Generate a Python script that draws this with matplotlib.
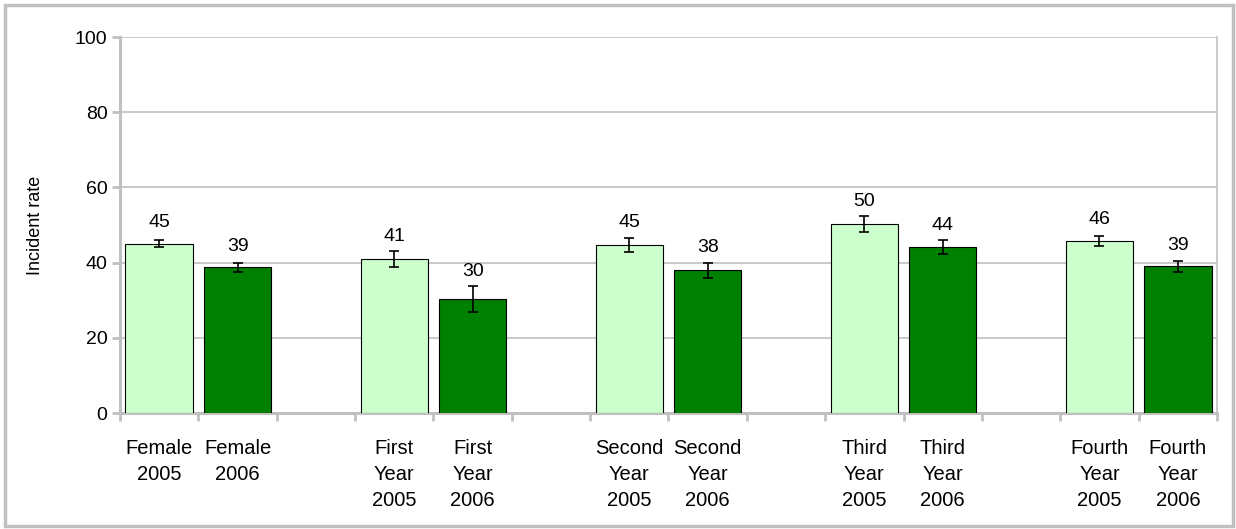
import matplotlib
matplotlib.use("Agg")
import matplotlib.pyplot as plt
from matplotlib.patches import Rectangle
import numpy as np

plt.rcParams['font.family'] = ['Liberation Sans', 'DejaVu Sans']

# data
labels = ["Female\n2005", "Female\n2006",
          "First\nYear\n2005", "First\nYear\n2006",
          "Second\nYear\n2005", "Second\nYear\n2006",
          "Third\nYear\n2005", "Third\nYear\n2006",
          "Fourth\nYear\n2005", "Fourth\nYear\n2006"]
values = [45.0, 38.7, 40.9, 30.3, 44.6, 38.0, 50.2, 44.1, 45.7, 39.0]
errors = [0.9, 1.2, 2.1, 3.4, 1.9, 2.0, 2.1, 1.8, 1.4, 1.4]
shown = ["45", "39", "41", "30", "45", "38", "50", "44", "46", "39"]
years = [2005, 2006] * 5

# one empty slot between each pair of bars
slots = [0, 1, 3, 4, 6, 7, 9, 10, 12, 13]
n_slots = 14

light = "#ccffcc"
dark = "#008000"
grey = "#c0c0c0"

fig = plt.figure(figsize=(12.36, 5.29), dpi=100)
W, H = 1236, 529
ax = fig.add_axes([120 / W, 1 - 413 / H, (1217 - 120) / W, (413 - 37) / H])

x = np.array(slots) + 0.5
colors = [light if y == 2005 else dark for y in years]
ax.bar(x, values, width=0.86, color=colors, edgecolor="black", linewidth=0.8, zorder=3)
ax.errorbar(x, values, yerr=errors, fmt="none", ecolor="black", elinewidth=1.2,
            capsize=3.3, capthick=1.2, zorder=4)

for xi, v, e, s in zip(x, values, errors, shown):
    ty = max(v + 3.4, v + e + 1.8)
    ax.text(xi, ty, s, ha="center", va="bottom", fontsize=14)

ax.set_xlim(0, n_slots)
ax.set_ylim(0, 100)
ax.set_yticks(np.arange(0, 101, 20))
ax.yaxis.grid(True, color=grey, linewidth=1.2, zorder=0)
ax.set_axisbelow(True)

# tick marks on slot boundaries, labels centred under bars
ax.set_xticks(np.arange(0, n_slots + 1))
ax.set_xticklabels([])
ax.set_xticks(x, minor=True)
ax.set_xticklabels(labels, minor=True, fontsize=14.5, linespacing=1.44)
ax.tick_params(axis="x", which="major", length=6, width=2, color=grey, direction="out")
ax.tick_params(axis="x", which="minor", length=0, pad=19)
ax.tick_params(axis="y", length=6, width=2, color=grey, labelsize=14, pad=3)

for side in ["left", "bottom"]:
    ax.spines[side].set_color(grey)
    ax.spines[side].set_linewidth(2.2)
ax.spines["right"].set_color(grey)
ax.spines["right"].set_linewidth(1.2)
ax.spines["top"].set_visible(False)

ax.set_ylabel("Incident rate", fontsize=13, labelpad=22)

# outer frame round the whole chart
fig.patches.append(Rectangle((5 / W, 3 / H), 1228 / W, 521 / H, transform=fig.transFigure,
                             fill=False, edgecolor=grey, linewidth=2.5))

fig.savefig("out.png", dpi=100)
